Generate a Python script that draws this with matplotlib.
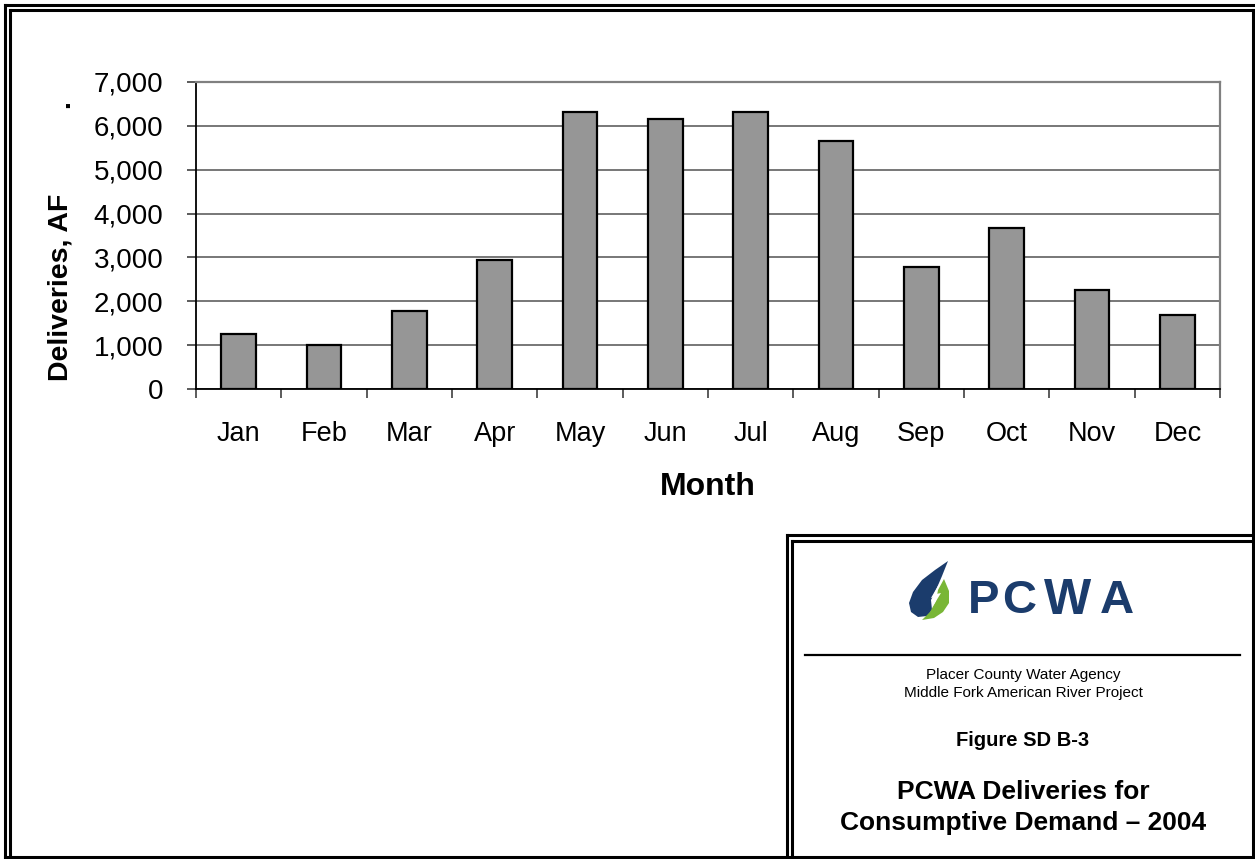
import matplotlib
matplotlib.use("Agg")
import matplotlib.pyplot as plt
from matplotlib.patches import Polygon
import numpy as np

months = ["Jan", "Feb", "Mar", "Apr", "May", "Jun", "Jul", "Aug", "Sep", "Oct", "Nov", "Dec"]
deliveries = [1260, 1000, 1790, 2940, 6310, 6150, 6320, 5640, 2790, 3680, 2260, 1690]
yticks = [0, 1000, 2000, 3000, 4000, 5000, 6000, 7000]
ytick_labels = ["0", "1,000", "2,000", "3,000", "4,000", "5,000", "6,000", "7,000"]

plt.rcParams['font.family'] = ['Liberation Sans', 'DejaVu Sans']

W, H = 1255, 859
fig = plt.figure(figsize=(W / 100, H / 100), dpi=100)
fig.patch.set_facecolor("white")

# ---- chart axes ----
left, right, top, bottom = 196, 1220, 81.7, 389.3
ax = fig.add_axes([left / W, 1 - bottom / H, (right - left) / W, (bottom - top) / H])
x = np.arange(len(months))
ax.bar(x, deliveries, width=0.41, color="#969696", edgecolor="black", linewidth=1.6, zorder=3)
ax.set_xlim(-0.5, len(months) - 0.5)
ax.set_ylim(0, 7000)
ax.set_yticks(yticks)
ax.set_yticklabels(ytick_labels, fontsize=20)
ax.yaxis.grid(True, color="#606060", linewidth=1.2, zorder=0)
ax.set_axisbelow(True)
ax.tick_params(axis="y", direction="out", length=6.5, width=1.2, color="#404040", pad=17)

ax.set_xticks(x)
ax.set_xticklabels(months, fontsize=19.5)
ax.set_xticks(np.arange(-0.5, len(months)), minor=True)
ax.tick_params(axis="x", which="major", length=0, pad=22.5)
ax.tick_params(axis="x", which="minor", direction="out", length=6.5, width=1.2, color="#404040")

for s in ["top", "right"]:
    ax.spines[s].set_color("#808080")
    ax.spines[s].set_linewidth(1.6)
for s in ["left", "bottom"]:
    ax.spines[s].set_color("black")
    ax.spines[s].set_linewidth(1.3)

# ---- overlay for frames, labels and title box ----
ov = fig.add_axes([0, 0, 1, 1], zorder=-1)
ov.set_xlim(0, W)
ov.set_ylim(H, 0)
ov.axis("off")

def line(xs, ys, lw=2.2):
    ov.plot(xs, ys, color="black", linewidth=lw, solid_capstyle="projecting")

# main double frame
line([5, 5], [5, 857])
line([5, 1256], [5, 5])
line([9.5, 9.5], [9.5, 857])
line([9.5, 1252.5], [9.5, 9.5])
line([1252.5, 1252.5], [9.5, 857])
line([5, 1253], [857, 857])
# title box double frame
line([787, 1253], [535, 535])
line([792, 1253], [540.5, 540.5])
line([787, 787], [535, 857])
line([792, 792], [540.5, 857])
# separator line in box
line([805, 1240], [655, 655], lw=1.6)

# axis labels
ov.text(60, 287, "Deliveries, AF", rotation=90, ha="center", va="center",
        fontsize=20.5, fontweight="bold")
ov.text(62, 104, ".", rotation=90, ha="center", va="center", fontsize=20.5, fontweight="bold")
ov.text(708, 487, "Month", ha="center", va="center", fontsize=23, fontweight="bold")

# logo
navy = "#1b3c6c"
green = "#79b636"
blue_drop = [(948, 561), (935, 570), (922, 580), (913, 592), (909, 603), (911, 612),
             (918, 617), (927, 616), (932, 610), (931, 600), (936, 590), (942, 576)]
green_crescent = [(944, 579), (949, 591), (949, 603), (943, 612), (934, 618), (922, 620),
                  (930, 612), (936, 601), (938, 590)]
bolt = [(939, 584), (936, 594), (941, 593), (933, 606), (935, 597), (931, 598)]
ov.add_patch(Polygon(blue_drop, closed=True, facecolor=navy, edgecolor="none"))
ov.add_patch(Polygon(green_crescent, closed=True, facecolor=green, edgecolor="none"))
ov.add_patch(Polygon(bolt, closed=True, facecolor="white", edgecolor="none"))
for ch, cx, sz in zip("PCWA", [984, 1019, 1068, 1117], [34, 34, 36, 34]):
    ov.text(cx, 601, ch, ha="center", va="center", fontsize=sz, fontweight="bold", color=navy)

# box texts
ov.text(1023, 675, "Placer County Water Agency", ha="center", va="center", fontsize=11)
ov.text(1023, 693, "Middle Fork American River Project", ha="center", va="center", fontsize=11)
ov.text(1023, 740, "Figure SD B-3", ha="center", va="center", fontsize=14.5, fontweight="bold")
ov.text(1023, 792, "PCWA Deliveries for", ha="center", va="center", fontsize=19, fontweight="bold")
ov.text(1023, 823, "Consumptive Demand \u2013 2004", ha="center", va="center", fontsize=19,
        fontweight="bold")

fig.savefig("out.png", dpi=100, facecolor="white")
